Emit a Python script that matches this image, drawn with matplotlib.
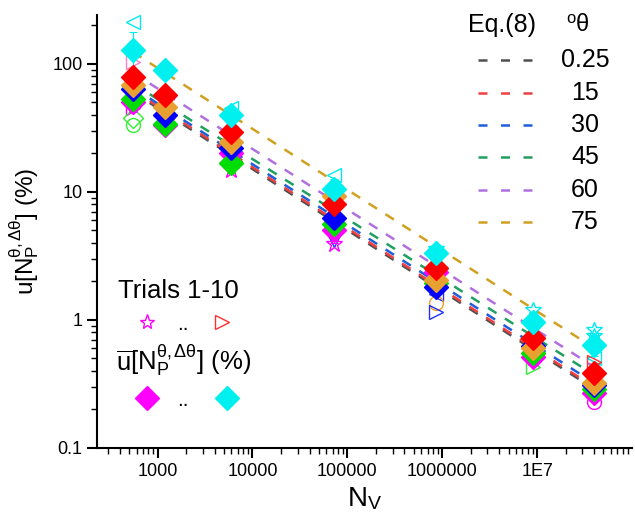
import numpy as np
import matplotlib
matplotlib.use("Agg")
import matplotlib.pyplot as plt
from matplotlib.ticker import FixedLocator, FixedFormatter, LogLocator, NullFormatter

plt.rcParams['font.family'] = ['Liberation Sans', 'DejaVu Sans']
plt.rcParams['mathtext.fontset'] = 'custom'
plt.rcParams['mathtext.rm'] = 'Liberation Sans'
plt.rcParams['mathtext.it'] = 'Liberation Serif:italic'

# -------- DATA --------
n_v = [550, 1200, 6000, 73000, 850000, 9.0e6, 4.0e7]

# mean uncertainty (%) per angle, filled diamonds
mean_u = {
    "magenta": [50, 33, 20, 5.0, 2.35, 0.51, 0.27],
    "lime":    [53, 34, 16.9, 5.6, 1.95, 0.55, 0.29],
    "blue":    [63, 40, 22, 6.3, 1.81, 0.62, 0.31],
    "orange":  [68.5, 46, 24.6, 9.3, 2.05, 0.60, 0.32],
    "red":     [79, 57, 29.5, 8.05, 2.55, 0.72, 0.385],
    "cyan":    [128, 90, 40, 10.5, 3.33, 0.96, 0.64],
}
mean_err = {
    "magenta": [8, 4, 6, 1.0, 0.3, 0.06, 0.03],
    "lime":    [10, 4, 3, 0.8, 0.2, 0.05, 0.03],
    "blue":    [8, 4, 3, 1.0, 0.25, 0.06, 0.03],
    "orange":  [9, 5, 4, 1.2, 0.25, 0.06, 0.03],
    "red":     [10, 6, 4, 1.2, 0.3, 0.08, 0.04],
    "cyan":    [50, 10, 6, 2.0, 0.35, 0.15, 0.12],
}
mean_colors = {
    "magenta": "#ff00ff", "lime": "#00dd00", "blue": "#0000ff",
    "orange": "#e8a030", "red": "#ff0000", "cyan": "#00f0f0",
}

# individual trials (hollow symbols) that stick out from the means
trial_n = [550, 550, 550, 550, 550,
           6000, 6000, 6000,
           73000, 73000, 73000,
           850000, 850000, 850000, 850000, 850000,
           9.0e6, 9.0e6, 9.0e6,
           4.0e7, 4.0e7, 4.0e7, 4.0e7, 4.0e7]
trial_u = [213, 104, 45, 38, 33,
           45, 14.7, 19,
           13.6, 4.2, 3.9,
           3.6, 2.2, 1.58, 1.36, 1.15,
           1.2, 0.43, 0.5,
           0.84, 0.75, 0.5, 0.47, 0.23]
trial_marker = ['<', '>', '>', 'D', 'o',
                '<', '*', 'v',
                '<', 'v', '*',
                '*', '*', '<', 'o', '>',
                '*', '>', '*',
                '*', '*', '<', '>', 'o']
trial_color = ['#00e8f0', '#ff80c0', '#ff00ff', '#33ee33', '#33ee33',
               '#00e8f0', '#ff00ff', '#2030ff',
               '#00e8f0', '#2030ff', '#ff00ff',
               '#00e8f0', '#ff00ff', '#2030ff', '#f0a020', '#2030ff',
               '#00e8f0', '#33ee33', '#ff00ff',
               '#00e8f0', '#00e8f0', '#00e8f0', '#ff3030', '#ff00ff']

# Eq.(8) model lines, read at both ends
line_n = [550, 4.5e7]
theta_labels = ["0.25", "15", "30", "45", "60", "75"]
line_u = [
    [60, 0.273],
    [62, 0.283],
    [65, 0.304],
    [70, 0.352],
    [85, 0.406],
    [123, 0.57],
]
line_colors = ["#505050", "#f04040", "#1f5fd9", "#20a060", "#b070e0", "#d0a020"]

# -------- PLOT --------
fig = plt.figure(figsize=(6.35, 5.25), dpi=100)
ax = fig.add_axes([97 / 635, 1 - 448 / 525, 535 / 635, 433 / 525])

for u, c in zip(line_u, line_colors):
    ax.plot(line_n, u, color=c, lw=1.8, dashes=(4, 4), zorder=2)

for m, t_n, t_u, c in zip(trial_marker, trial_n, trial_u, trial_color):
    ms = 12 if m == '*' else 10
    ax.plot(t_n, t_u, m, mfc='none', mec=c, mew=1.0, ms=ms, zorder=3)

for key in ["magenta", "lime", "blue", "orange", "red", "cyan"]:
    c = mean_colors[key]
    ax.errorbar(n_v, mean_u[key], yerr=mean_err[key], fmt='D', color=c,
                ms=12, mec=c, ecolor=c, elinewidth=0.8, capsize=3,
                capthick=0.8, zorder=4)

ax.set_xscale('log')
ax.set_yscale('log')
ax.set_xlim(230, 1e8)
ax.set_ylim(0.1, 240)

ax.xaxis.set_major_locator(FixedLocator([1e3, 1e4, 1e5, 1e6, 1e7]))
ax.xaxis.set_major_formatter(FixedFormatter(["1000", "10000", "100000", "1000000", "1E7"]))
ax.xaxis.set_minor_locator(LogLocator(base=10, subs=np.arange(2, 10)))
ax.xaxis.set_minor_formatter(NullFormatter())
ax.yaxis.set_major_locator(FixedLocator([0.1, 1, 10, 100]))
ax.yaxis.set_major_formatter(FixedFormatter(["0.1", "1", "10", "100"]))
ax.yaxis.set_minor_locator(LogLocator(base=10, subs=np.arange(2, 10)))
ax.yaxis.set_minor_formatter(NullFormatter())

for side in ['top', 'right']:
    ax.spines[side].set_visible(False)
for side in ['left', 'bottom']:
    ax.spines[side].set_linewidth(1.5)
ax.tick_params(which='major', direction='out', length=7, width=1.5, labelsize=13)
ax.tick_params(which='minor', direction='out', length=4, width=1.0)

ax.set_xlabel(r'N$_\mathrm{V}$', fontsize=20, labelpad=4)
ax.set_ylabel(r'u[N$_\mathrm{P}^{\mathrm{\theta,\Delta\theta}}$] (%)', fontsize=17.5, labelpad=8)

# -------- LEGENDS (drawn by hand, Origin style) --------
def ax_xy(px, py):
    return (px - 97) / 535, (448 - py) / 433

tr = ax.transAxes
ax.text(*ax_xy(502, 25), "Eq.(8)", transform=tr, fontsize=18, ha='center', va='center')
ax.text(*ax_xy(578, 25), r'$^\mathrm{o}$θ', transform=tr, fontsize=17, ha='center', va='center')
legend_rows = [60, 93, 125, 157, 190, 222]
for py, c, lab in zip(legend_rows, line_colors, theta_labels):
    x0, y0 = ax_xy(478, py)
    x1, _ = ax_xy(533, py)
    ax.plot([x0, x1], [y0, y0], color=c, lw=1.8, dashes=(3.6, 5.4), transform=tr, clip_on=False)
    ax.text(*ax_xy(585, py), lab, transform=tr, fontsize=18, ha='center', va='center')

ax.text(*ax_xy(118, 291), "Trials 1-10", transform=tr, fontsize=18.5, ha='left', va='center')
ax.plot(*ax_xy(147, 322), '*', mfc='none', mec='#ff00ff', mew=1.0, ms=11, transform=tr, clip_on=False)
ax.text(*ax_xy(183, 324), "..", transform=tr, fontsize=15, ha='center', va='center')
ax.plot(*ax_xy(222, 322), '>', mfc='none', mec='#ff3030', mew=1.0, ms=10, transform=tr, clip_on=False)

ax.text(*ax_xy(116, 360), r'$\overline{\mathrm{u}}$[N$_\mathrm{P}^{\mathrm{\theta,\Delta\theta}}$] (%)',
        transform=tr, fontsize=18.5, ha='left', va='center')
ax.plot(*ax_xy(147, 398), 'D', color='#ff00ff', ms=12, transform=tr, clip_on=False)
ax.text(*ax_xy(183, 400), "..", transform=tr, fontsize=15, ha='center', va='center')
ax.plot(*ax_xy(227, 398), 'D', color='#00f0f0', ms=12, transform=tr, clip_on=False)

plt.savefig("out.png", dpi=100)
plt.close()
